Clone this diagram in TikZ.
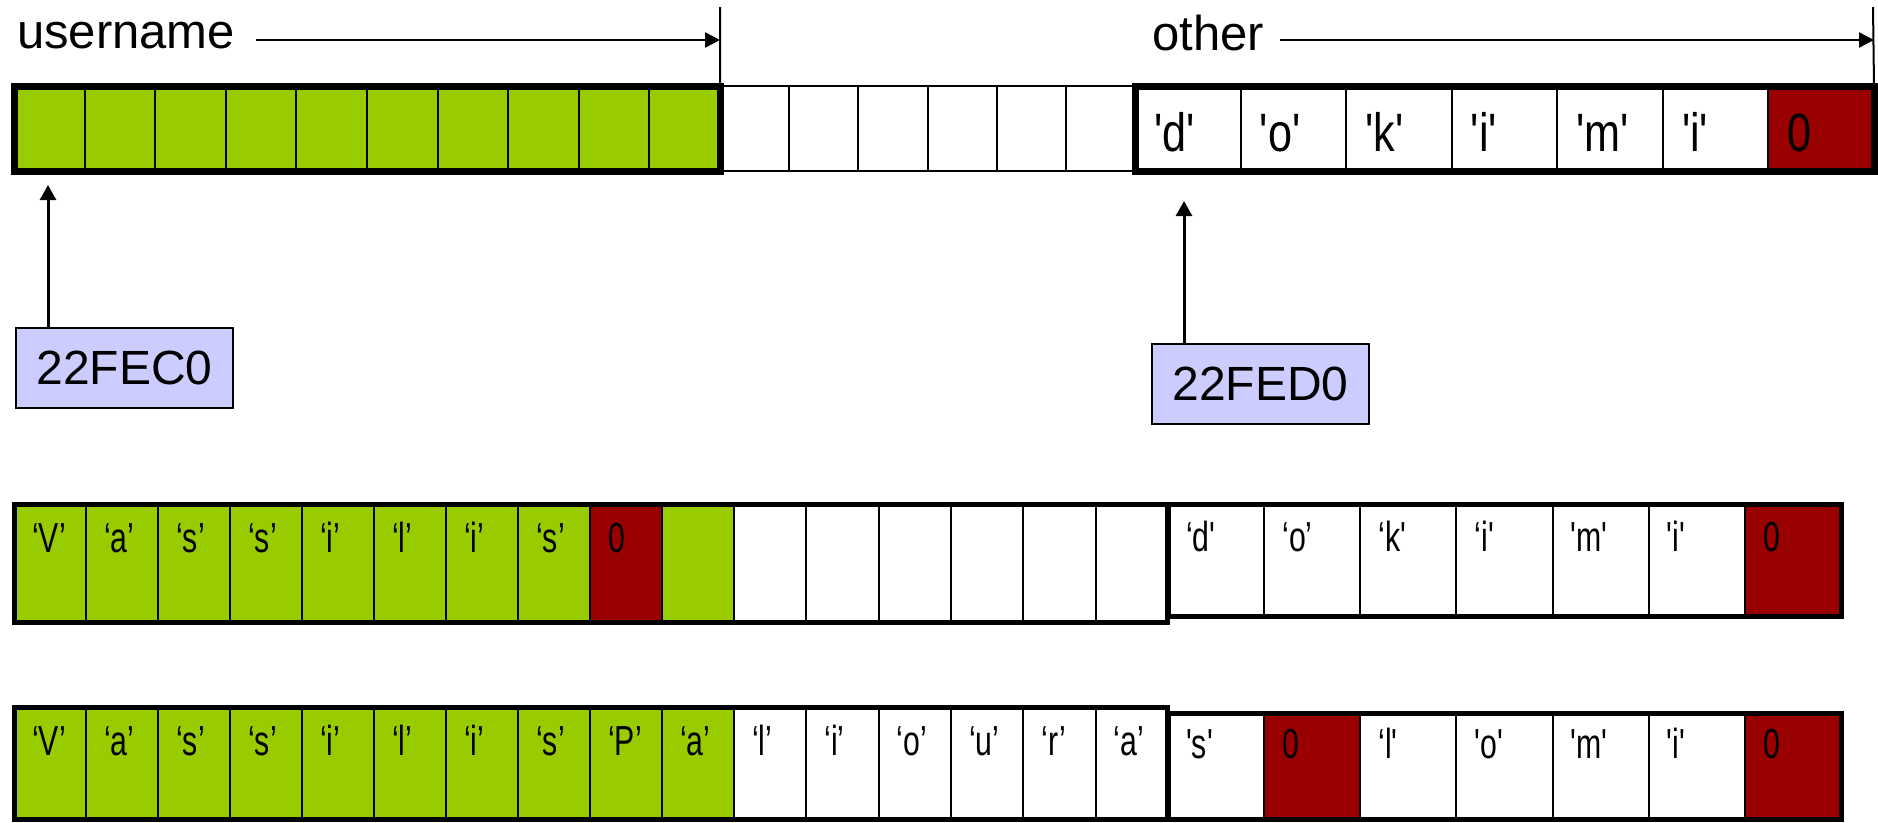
\documentclass[tikz,border=0pt]{standalone}
\usepackage{fontspec}
\setmainfont{Liberation Sans}
\newfontfamily\lblbig[FakeStretch=0.8,Ligatures=TeXOff]{Liberation Sans}
\newfontfamily\lblsmall[FakeStretch=0.72,Ligatures=TeXOff]{Liberation Sans}
\usetikzlibrary{arrows.meta}
\definecolor{cgreen}{HTML}{99CC00}
\definecolor{cred}{HTML}{990000}
\definecolor{cblue}{HTML}{CCCCFF}
\tikzset{
  cellbox/.style={draw=black, line width=2bp, inner sep=0pt, outer sep=0pt, anchor=north west},
  biglbl/.style={font=\lblbig\fontsize{54bp}{60bp}\selectfont, inner sep=0pt, anchor=base west},
  smalllbl/.style={font=\lblsmall\fontsize{42bp}{48bp}\selectfont, inner sep=0pt, anchor=base west},
  toplbl/.style={font=\fontsize{49bp}{56bp}\selectfont, inner sep=0pt, anchor=base west},
  addr/.style={draw=black, line width=2.5bp, fill=cblue, minimum width=217bp, minimum height=80bp,
     inner sep=0pt, font=\fontsize{48bp}{56bp}\selectfont},
  ptr/.style={line width=3bp, -{Triangle[length=15bp,width=16bp]}},
  span/.style={line width=2.5bp, -{Triangle[length=15bp,width=15bp]}},
  thickA/.style={line width=7bp},
  thickB/.style={line width=5bp},
}
\begin{document}
\begin{tikzpicture}[x=1bp,y=-1bp]
\useasboundingbox (0,0) rectangle (1878,823);

% ---------- Row 1 ----------
\foreach \i in {0,...,9}
  \node[cellbox, fill=cgreen, minimum width=70.6bp, minimum height=85bp] (a\i) at ({14+\i*70.6},86) {};
\foreach \i in {0,...,5}
  \node[cellbox, fill=white, minimum width=69.17bp, minimum height=85bp] (m\i) at ({720+\i*69.17},86) {};
\foreach [count=\i from 0] \t/\c in {'d'/white,'o'/white,'k'/white,'i'/white,'m'/white,'i'/white,0/cred} {
  \node[cellbox, fill=\c, minimum width=105.57bp, minimum height=85bp] (o\i) at ({1135+\i*105.57},86) {};
  \node[biglbl] (ol\i) at ([shift={(19,65)}]o\i.north west) {\t};
}
\draw[thickA] (a0.north west) rectangle (a9.south east);
\draw[thickA] (o0.north west) rectangle (o6.south east);

% top labels and spans
\node[toplbl] (uname) at (17,48) {username};
\coordinate (v1top) at (720,7);
\draw[line width=2bp] (v1top) -- (a9.north east);
\coordinate (ustart) at (256,40);
\draw[span] (ustart) -- (ustart -| a9.north east);

\node[toplbl] (oth) at (1152,50) {other};
\coordinate (v2top) at (1873,7);
\draw[line width=2bp] (v2top) -- (o6.north east);
\coordinate (ostart) at (1280,40);
\draw[span] (ostart) -- (ostart -| o6.north east);

% address boxes and pointers
\node[addr] (addr1) at (124.5,368) {22FEC0};
\coordinate (tip1) at (48,185);
\draw[ptr] (addr1.north -| tip1) -- (tip1);

\node[addr] (addr2) at (1260.5,384) {22FED0};
\coordinate (tip2) at (1184,201);
\draw[ptr] (addr2.north -| tip2) -- (tip2);

% ---------- Row 2 ----------
\foreach [count=\i from 0] \t/\c in {‘V’/cgreen,‘a’/cgreen,‘s’/cgreen,‘s’/cgreen,‘i’/cgreen,‘l’/cgreen,‘i’/cgreen,‘s’/cgreen,0/cred,\empty/cgreen} {
  \node[cellbox, fill=\c, minimum width=72bp, minimum height=118bp] (b\i) at ({14+\i*72},504) {};
  \node[smalllbl] (bl\i) at ([shift={(18,48)}]b\i.north west) {\t};
}
\foreach \i in {0,...,5}
  \node[cellbox, fill=white, minimum width=72.33bp, minimum height=118bp] (bm\i) at ({734+\i*72.33},504) {};
\foreach [count=\i from 0] \t/\c in {‘d'/white,‘o’/white,‘k'/white,‘i'/white,'m'/white,'i'/white,0/cred} {
  \node[cellbox, fill=\c, minimum width=96.14bp, minimum height=112bp] (bo\i) at ({1168+\i*96.14},504) {};
  \node[smalllbl] (bol\i) at ([shift={(18,47)}]bo\i.north west) {\t};
}
\draw[thickB] (b0.north west) rectangle (bm5.south east);
\draw[thickB] (bo0.north west) rectangle (bo6.south east);

% ---------- Row 3 ----------
\foreach [count=\i from 0] \t in {‘V’,‘a’,‘s’,‘s’,‘i’,‘l’,‘i’,‘s’,‘P’,‘a’} {
  \node[cellbox, fill=cgreen, minimum width=72bp, minimum height=112bp] (c\i) at ({14+\i*72},707) {};
  \node[smalllbl] (cl\i) at ([shift={(18,48)}]c\i.north west) {\t};
}
\foreach [count=\i from 0] \t in {‘l’,‘i’,‘o’,‘u’,‘r’,‘a’} {
  \node[cellbox, fill=white, minimum width=72.33bp, minimum height=112bp] (cm\i) at ({734+\i*72.33},707) {};
  \node[smalllbl] (cml\i) at ([shift={(18,48)}]cm\i.north west) {\t};
}
\foreach [count=\i from 0] \t/\c in {'s'/white,0/cred,‘l'/white,'o'/white,'m'/white,'i'/white,0/cred} {
  \node[cellbox, fill=\c, minimum width=96.14bp, minimum height=106bp] (co\i) at ({1168+\i*96.14},713) {};
  \node[smalllbl] (col\i) at ([shift={(18,45)}]co\i.north west) {\t};
}
\draw[thickB] (c0.north west) rectangle (cm5.south east);
\draw[thickB] (co0.north west) rectangle (co6.south east);
\end{tikzpicture}
\end{document}
